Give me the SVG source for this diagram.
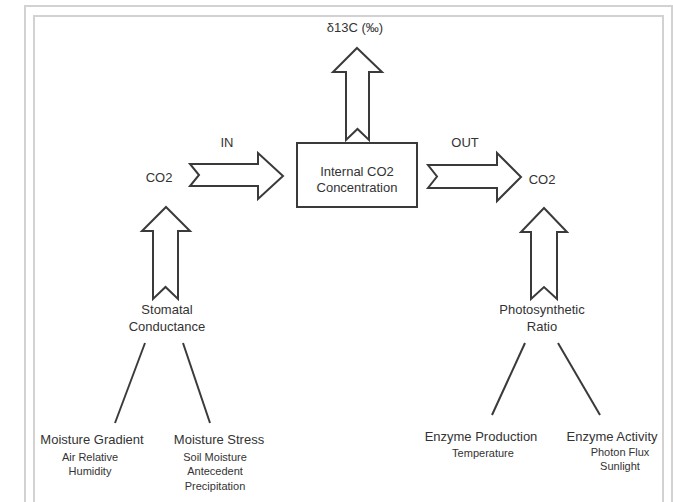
<svg xmlns="http://www.w3.org/2000/svg" width="673" height="502" viewBox="0 0 673 502">
<style>
.frame{fill:none;stroke:#d2d2d2;stroke-width:2}
.arrow{fill:#fff;stroke:#3a3a3a;stroke-width:2;stroke-linejoin:miter}
.line{stroke:#3a3a3a;stroke-width:2;fill:none}
.box{fill:#fff;stroke:#3a3a3a;stroke-width:2}
text{font-family:"Liberation Sans",Arial,sans-serif;fill:#333;text-anchor:middle}
.m{font-size:13px}
.s{font-size:11px}
</style>
<rect width="673" height="502" fill="#fff"/>
<path class="frame" d="M25,502 V6 H672 V502"/>
<path class="frame" d="M34,502 V16 H663 V502"/>
<g id="connectors">
<polygon class="arrow" points="357,48 382,72 369,72 369,140 357.5,129 346,140 346,72 333,72"/>
<polygon class="arrow" points="190,164 258,164 258,153 283,176 258,199 258,186 190,186 199,175"/>
<polygon class="arrow" points="428,165 497,165 497,153 521,177 497,201 497,188 428,188 437,176.5"/>
<polygon class="arrow" points="166,207 190,231 178,231 178,299 165.5,287 153,299 153,231 142,231"/>
<polygon class="arrow" points="544,208 567,232 557,232 557,299 544,287 531,299 531,232 521,232"/>
<line class="line" x1="145" y1="343" x2="115" y2="423"/>
<line class="line" x1="183" y1="343" x2="210" y2="423"/>
<line class="line" x1="525" y1="343" x2="492" y2="415"/>
<line class="line" x1="558" y1="343" x2="600" y2="415"/>
</g>
<g id="delta"><text class="m" x="355" y="32">δ13C (‰)</text></g>
<g id="internal">
<rect class="box" x="297" y="143" width="120" height="64"/>
<text class="m" x="357" y="176">Internal CO2</text>
<text class="m" x="357" y="192">Concentration</text>
</g>
<g id="in"><text class="m" x="227" y="147">IN</text></g>
<g id="out"><text class="m" x="465" y="147">OUT</text></g>
<g id="co2-left"><text class="m" x="159" y="182">CO2</text></g>
<g id="co2-right"><text class="m" x="542" y="184">CO2</text></g>
<g id="stomatal">
<text class="m" x="167" y="314">Stomatal</text>
<text class="m" x="167" y="331">Conductance</text>
</g>
<g id="photosynthetic">
<text class="m" x="542" y="314">Photosynthetic</text>
<text class="m" x="542" y="331">Ratio</text>
</g>
<g id="moisture-gradient">
<text class="m" x="92" y="444">Moisture Gradient</text>
<text class="s" x="90" y="461">Air Relative</text>
<text class="s" x="90" y="475">Humidity</text>
</g>
<g id="moisture-stress">
<text class="m" x="219" y="444">Moisture Stress</text>
<text class="s" x="215" y="461">Soil Moisture</text>
<text class="s" x="215" y="475">Antecedent</text>
<text class="s" x="215" y="490">Precipitation</text>
</g>
<g id="enzyme-production">
<text class="m" x="481" y="441">Enzyme Production</text>
<text class="s" x="483" y="457">Temperature</text>
</g>
<g id="enzyme-activity">
<text class="m" x="612" y="441">Enzyme Activity</text>
<text class="s" x="620" y="456">Photon Flux</text>
<text class="s" x="620" y="470">Sunlight</text>
</g>
</svg>
